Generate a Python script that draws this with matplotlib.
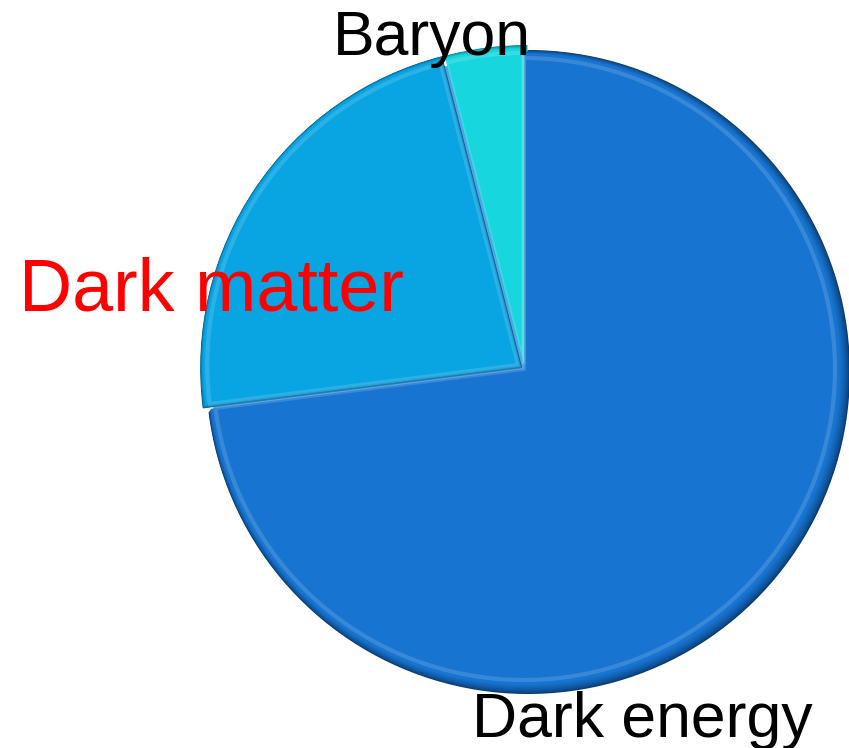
import matplotlib
matplotlib.use("Agg")
import matplotlib.pyplot as plt
from matplotlib.colors import to_rgb

# Composition of the universe (percent)
components = ["Baryon", "Dark matter", "Dark energy"]
shares = [4, 23, 73]
label_colors = ["black", "red", "black"]

face_colors = ["#17D6DE", "#09A5E3", "#1775D1"]
rim_colors = ["#0A7F86", "#055C8C", "#0A3B72"]
bevel_color = "#3A93E4"
# pie offsets are in data units (pixels here)
explode = [5, 7, 0]

W, H = 849, 748
fig = plt.figure(figsize=(W / 100, H / 100), dpi=100)
ax = fig.add_axes([0, 0, 1, 1])

cx, cy, R = 527, 378, 322


def mix(c1, c2, t):
    a, b = to_rgb(c1), to_rgb(c2)
    return tuple(a[i] * (1 - t) + b[i] * t for i in range(3))


# light bevel backing that shows through between the separated wedges
ax.pie([sum(shares)], colors=[bevel_color], startangle=90, radius=R - 8,
       center=(cx - 2, cy), wedgeprops=dict(linewidth=0), frame=True)

# layered wedges: dark rim fading into the face colour, shifted toward the
# lower right so the shading sits on the right/bottom edge
steps = 8
for k in range(steps + 1):
    t = k / steps
    cols = [mix(r, f, t ** 0.7) for r, f in zip(rim_colors, face_colors)]
    ax.pie(shares, colors=cols, startangle=90, counterclock=True,
           explode=explode, radius=R - 0.8 * k,
           center=(cx + 1 - 0.45 * k, cy - 2 + 0.35 * k),
           wedgeprops=dict(linewidth=0), frame=True)

# soft bevel highlight along the wedge edges
ax.pie(shares, colors=["none"] * 3, startangle=90, counterclock=True,
       explode=explode, radius=R - 11, center=(cx - 3, cy + 1),
       wedgeprops=dict(linewidth=3, edgecolor=(1, 1, 1, 0.14), fill=False),
       frame=True)

ax.set_xlim(0, W)
ax.set_ylim(0, H)
ax.set_aspect("equal")
ax.axis("off")

# category labels
label_pos = [(333, H - 55, 45), (19, H - 310, 53), (472, H - 737, 45)]
for name, col, (x, y, fs) in zip(components, label_colors, label_pos):
    ax.text(x, y, name, color=col, fontsize=fs, family="Liberation Sans",
            ha="left", va="baseline")

fig.savefig("out.png", dpi=100, facecolor="white")
